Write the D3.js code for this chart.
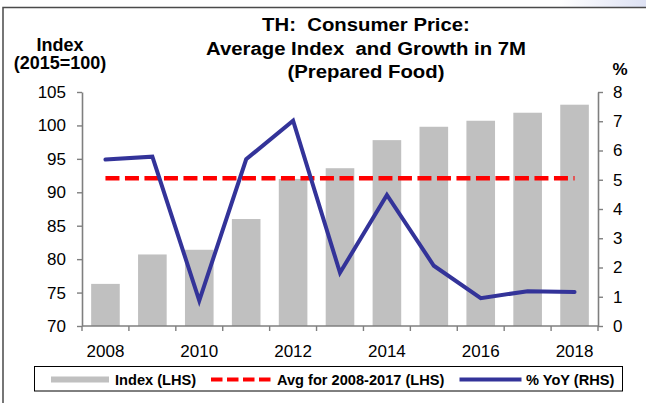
<!DOCTYPE html>
<html>
<head>
<meta charset="utf-8">
<script src="https://cdn.jsdelivr.net/npm/d3@7"></script>
<style>
  html, body { margin: 0; padding: 0; background: #fff; }
  svg { display: block; font-family: "Liberation Sans", Arial, sans-serif; }
  .keep-space { white-space: pre; }
</style>
</head>
<body>
<svg id="chart" width="646" height="403"></svg>
<script>
// Thai CPI, prepared food: average index (Jan–Jul) and YoY growth
const years = [2008, 2009, 2010, 2011, 2012, 2013, 2014, 2015, 2016, 2017, 2018];
const indexValues = [76.3, 80.7, 81.4, 86.0, 92.0, 93.6, 97.8, 99.8, 100.7, 101.9, 103.1];
const yoyValues = [5.69, 5.79, 0.87, 5.70, 7.02, 1.82, 4.48, 2.06, 0.95, 1.19, 1.16];
const avgValue = 92.1;
const avgYears = [2008, 2018];
const leftTicks = [70, 75, 80, 85, 90, 95, 100, 105];
const rightTicks = [0, 1, 2, 3, 4, 5, 6, 7, 8];
const titleLines = ["TH:  Consumer Price:", "Average Index  and Growth in 7M", "(Prepared Food)"];
const legendLabels = ["Index (LHS)", "Avg for 2008-2017 (LHS)", "% YoY (RHS)"];

const C = { bar: "#c0c0c0", avg: "#ff0000", yoy: "#333399", axis: "#7f7f7f", frame: "#4a4a4a" };

const svg = d3.select("#chart");
const plot = { left: 82, right: 598, top: 92, bottom: 326 };

// Soft tint at the top-right corner
const defs = svg.append("defs");
const grad = defs.append("linearGradient").attr("id", "tint").attr("x1", "0").attr("x2", "1");
grad.append("stop").attr("offset", "0").attr("stop-color", "#ffffff");
grad.append("stop").attr("offset", "1").attr("stop-color", "#dde1f3");
svg.append("rect").attr("x", 560).attr("y", 0).attr("width", 86).attr("height", 7).attr("fill", "url(#tint)");

// Outer frame (top and left edges)
svg.append("path")
  .attr("d", "M3,403 V7.5 H646")
  .attr("fill", "none").attr("stroke", C.frame).attr("stroke-width", 1.5);

// Scales
const xSlot = d3.scaleBand().domain(years).range([plot.left, plot.right]).padding(0);
const xBar = d3.scaleBand().domain(years).range([plot.left, plot.right]).paddingInner(0.39).paddingOuter(0.195);
const yL = d3.scaleLinear().domain([70, 105]).range([plot.bottom, plot.top]);
const yR = d3.scaleLinear().domain([0, 8]).range([plot.bottom, plot.top]);
const cx = d => xSlot(d) + xSlot.bandwidth() / 2;

// Bars
svg.append("g").selectAll("rect")
  .data(years.map((y, i) => ({ year: y, v: indexValues[i] })))
  .join("rect")
  .attr("x", d => xBar(d.year))
  .attr("width", xBar.bandwidth())
  .attr("y", d => yL(d.v))
  .attr("height", d => yL(70) - yL(d.v))
  .attr("fill", C.bar);

// Average line
svg.append("line")
  .attr("x1", cx(avgYears[0])).attr("x2", cx(avgYears[1]))
  .attr("y1", yL(avgValue)).attr("y2", yL(avgValue))
  .attr("stroke", C.avg).attr("stroke-width", 4.5)
  .attr("stroke-dasharray", "14,5.5");

// YoY line
svg.append("path")
  .datum(years.map((y, i) => [cx(y), yR(yoyValues[i])]))
  .attr("d", d3.line())
  .attr("fill", "none").attr("stroke", C.yoy).attr("stroke-width", 4)
  .attr("stroke-linejoin", "miter").attr("stroke-linecap", "round");

// Axes
function styleAxis(g) {
  g.selectAll(".domain").attr("stroke", C.axis).attr("stroke-width", 1.6);
  g.selectAll(".tick line").attr("stroke", C.axis).attr("stroke-width", 1.4);
  g.selectAll(".tick text").attr("fill", "#000").attr("font-size", 17)
    .attr("font-family", "'Liberation Sans', Arial, sans-serif");
}

svg.append("g").attr("transform", `translate(${plot.left},0)`)
  .call(d3.axisLeft(yL).tickValues(leftTicks).tickSize(5).tickSizeOuter(0).tickPadding(11))
  .call(styleAxis);

svg.append("g").attr("transform", `translate(${plot.right},0)`)
  .call(d3.axisRight(yR).tickValues(rightTicks).tickSize(5).tickSizeOuter(0).tickPadding(10))
  .call(styleAxis);

// Bottom axis: boundary ticks between years, labels on even years
const xAxisG = svg.append("g").attr("transform", `translate(0,${plot.bottom})`);
xAxisG.append("line").attr("x1", plot.left).attr("x2", plot.right)
  .attr("stroke", C.axis).attr("stroke-width", 1.6);
xAxisG.selectAll("line.b")
  .data(years.concat([null]))
  .join("line").attr("class", "b")
  .attr("x1", (d, i) => i < years.length ? xSlot(d) : plot.right)
  .attr("x2", (d, i) => i < years.length ? xSlot(d) : plot.right)
  .attr("y1", 0).attr("y2", 5)
  .attr("stroke", C.axis).attr("stroke-width", 1.4);
xAxisG.selectAll("text")
  .data(years.filter(y => y % 2 === 0))
  .join("text")
  .attr("x", d => cx(d)).attr("y", 31)
  .attr("text-anchor", "middle").attr("font-size", 17)
  .text(d => d);

// Title (slightly widened lettering)
svg.append("g").selectAll("text")
  .data(titleLines).join("text")
  .attr("class", "keep-space")
  .attr("transform", (d, i) => `translate(366,${31 + i * 23.5}) scale(1.13,1)`)
  .attr("text-anchor", "middle").attr("font-weight", "bold").attr("font-size", 18)
  .text(d => d);

// Axis captions
svg.append("text").attr("x", 60).attr("y", 50.5).attr("text-anchor", "middle")
  .attr("font-weight", "bold").attr("font-size", 18).text("Index");
svg.append("text").attr("x", 60).attr("y", 69).attr("text-anchor", "middle")
  .attr("font-weight", "bold").attr("font-size", 18).text("(2015=100)");
svg.append("text").attr("x", 620).attr("y", 75).attr("text-anchor", "middle")
  .attr("font-weight", "bold").attr("font-size", 17).text("%");

// Legend
const lg = svg.append("g");
lg.append("rect").attr("x", 34.5).attr("y", 366.5).attr("width", 588).attr("height", 24.5)
  .attr("fill", "#fff").attr("stroke", "#000").attr("stroke-width", 1);
const ly = 379.5;
lg.append("rect").attr("x", 51).attr("y", ly - 3).attr("width", 58).attr("height", 6).attr("fill", C.bar);
lg.append("line").attr("x1", 211).attr("x2", 271).attr("y1", ly).attr("y2", ly)
  .attr("stroke", C.avg).attr("stroke-width", 4).attr("stroke-dasharray", "11.5,4.5");
lg.append("line").attr("x1", 459.5).attr("x2", 521.5).attr("y1", ly).attr("y2", ly)
  .attr("stroke", C.yoy).attr("stroke-width", 4);
const legendX = [115, 277, 526];
lg.selectAll("text.l").data(legendLabels).join("text").attr("class", "l")
  .attr("x", (d, i) => legendX[i]).attr("y", ly + 5.5)
  .attr("font-weight", "bold").attr("font-size", 14.6)
  .text(d => d);
</script>
</body>
</html>
